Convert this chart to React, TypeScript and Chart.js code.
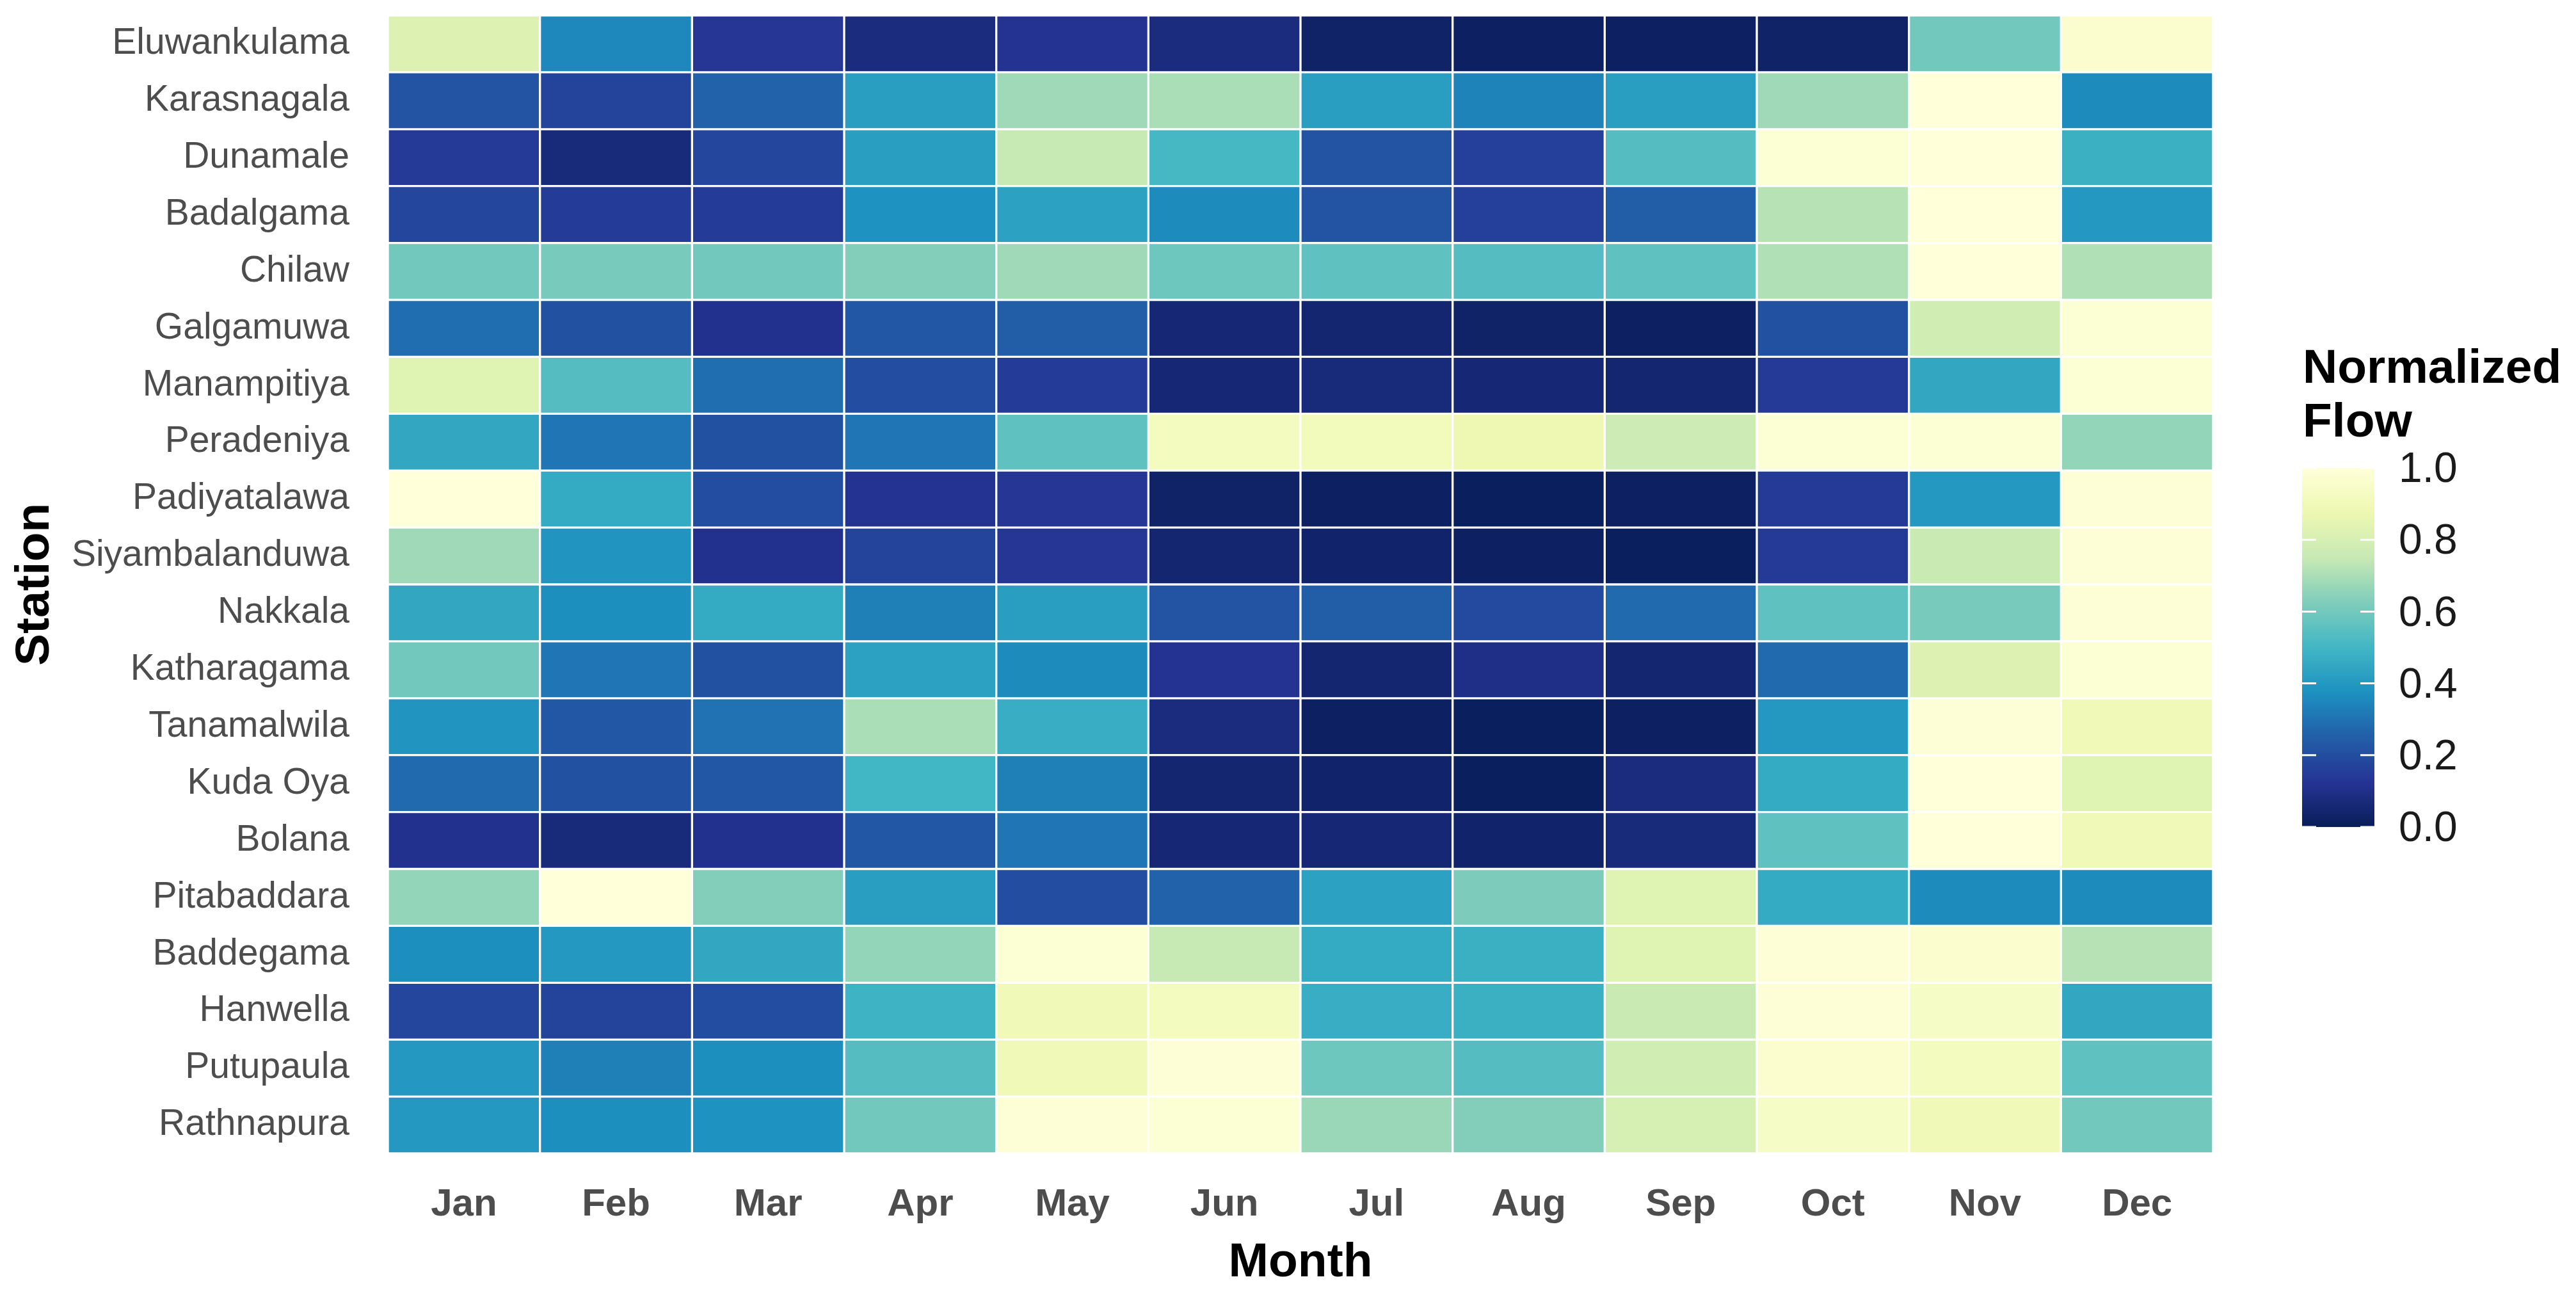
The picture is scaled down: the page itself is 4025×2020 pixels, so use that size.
import { useEffect, useRef } from 'react';
import { Chart, registerables } from 'chart.js';

Chart.register(...registerables);

const months = ['Jan', 'Feb', 'Mar', 'Apr', 'May', 'Jun', 'Jul', 'Aug', 'Sep', 'Oct', 'Nov', 'Dec'];

const stations = [
  'Eluwankulama', 'Karasnagala', 'Dunamale', 'Badalgama', 'Chilaw', 'Galgamuwa', 'Manampitiya',
  'Peradeniya', 'Padiyatalawa', 'Siyambalanduwa', 'Nakkala', 'Katharagama', 'Tanamalwila',
  'Kuda Oya', 'Bolana', 'Pitabaddara', 'Baddegama', 'Hanwella', 'Putupaula', 'Rathnapura',
];

const eluwankulama = [0.82, 0.35, 0.13, 0.08, 0.12, 0.08, 0.03, 0.02, 0.02, 0.03, 0.60, 0.97];
const karasnagala = [0.22, 0.17, 0.26, 0.42, 0.68, 0.70, 0.42, 0.34, 0.42, 0.68, 1.00, 0.36];
const dunamale = [0.14, 0.07, 0.18, 0.42, 0.75, 0.51, 0.22, 0.16, 0.54, 0.98, 1.00, 0.48];
const badalgama = [0.18, 0.15, 0.15, 0.38, 0.43, 0.36, 0.22, 0.16, 0.25, 0.72, 1.00, 0.40];
const chilaw = [0.60, 0.61, 0.60, 0.63, 0.68, 0.59, 0.56, 0.54, 0.56, 0.71, 1.00, 0.71];
const galgamuwa = [0.29, 0.21, 0.11, 0.23, 0.25, 0.06, 0.05, 0.03, 0.02, 0.21, 0.78, 0.98];
const manampitiya = [0.83, 0.54, 0.29, 0.20, 0.15, 0.06, 0.07, 0.06, 0.05, 0.14, 0.45, 0.98];
const peradeniya = [0.45, 0.31, 0.21, 0.31, 0.56, 0.92, 0.91, 0.88, 0.77, 0.98, 0.98, 0.66];
const padiyatalawa = [1.00, 0.46, 0.20, 0.12, 0.13, 0.03, 0.02, 0.01, 0.02, 0.14, 0.40, 0.99];
const siyambalanduwa = [0.68, 0.39, 0.11, 0.17, 0.13, 0.05, 0.04, 0.02, 0.01, 0.14, 0.76, 0.99];
const nakkala = [0.45, 0.37, 0.46, 0.33, 0.42, 0.22, 0.25, 0.19, 0.28, 0.56, 0.61, 0.99];
const katharagama = [0.60, 0.31, 0.21, 0.43, 0.36, 0.12, 0.05, 0.10, 0.05, 0.28, 0.82, 0.98];
const tanamalwila = [0.39, 0.23, 0.30, 0.70, 0.47, 0.08, 0.02, 0.01, 0.02, 0.40, 0.99, 0.90];
const kudaOya = [0.28, 0.21, 0.23, 0.50, 0.33, 0.05, 0.04, 0.01, 0.08, 0.46, 1.00, 0.83];
const bolana = [0.11, 0.07, 0.11, 0.23, 0.31, 0.06, 0.06, 0.04, 0.07, 0.56, 1.00, 0.90];
const pitabaddara = [0.66, 1.00, 0.63, 0.42, 0.20, 0.26, 0.43, 0.62, 0.83, 0.46, 0.36, 0.36];
const baddegama = [0.37, 0.40, 0.45, 0.66, 0.98, 0.75, 0.46, 0.48, 0.83, 0.99, 0.97, 0.72];
const hanwella = [0.18, 0.17, 0.20, 0.49, 0.90, 0.92, 0.47, 0.48, 0.76, 0.99, 0.94, 0.45];
const putupaula = [0.40, 0.33, 0.37, 0.54, 0.90, 0.99, 0.59, 0.54, 0.78, 0.97, 0.92, 0.56];
const rathnapura = [0.40, 0.37, 0.38, 0.60, 0.99, 0.98, 0.67, 0.63, 0.80, 0.94, 0.90, 0.60];

const flowRows = [
  eluwankulama, karasnagala, dunamale, badalgama, chilaw, galgamuwa, manampitiya,
  peradeniya, padiyatalawa, siyambalanduwa, nakkala, katharagama, tanamalwila,
  kudaOya, bolana, pitabaddara, baddegama, hanwella, putupaula, rathnapura,
];

const legendTicks = [0, 0.2, 0.4, 0.6, 0.8, 1.0];
const legendTitle = ['Normalized', 'Flow'];
const xTitle = 'Month';
const yTitle = 'Station';

// YlGnBu, from value 0 (dark) to value 1 (light)
const palette = ['#081d58', '#253494', '#225ea8', '#1d91c0', '#41b6c4', '#7fcdbb', '#c7e9b4', '#edf8b1', '#ffffd9'];

function hexToRgb(h: string) {
  return [parseInt(h.slice(1, 3), 16), parseInt(h.slice(3, 5), 16), parseInt(h.slice(5, 7), 16)];
}

function colorFor(v: number) {
  const t = Math.max(0, Math.min(1, v)) * (palette.length - 1);
  const i = Math.min(palette.length - 2, Math.floor(t));
  const f = t - i;
  const a = hexToRgb(palette[i]);
  const b = hexToRgb(palette[i + 1]);
  const c = a.map((x, k) => Math.round(x + (b[k] - x) * f));
  return `rgb(${c[0]},${c[1]},${c[2]})`;
}

const FONT = '"Liberation Sans", Arial, sans-serif';

const colorbarPlugin = {
  id: 'colorbar',
  afterDraw(chart: any) {
    const ctx = chart.ctx as CanvasRenderingContext2D;
    const x0 = 3597;
    const w = 113;
    const yTop = 731;
    const yBot = 1292;
    ctx.save();
    // title
    ctx.fillStyle = '#000000';
    ctx.font = `bold 75px ${FONT}`;
    ctx.textAlign = 'left';
    ctx.textBaseline = 'middle';
    legendTitle.forEach((line, i) => ctx.fillText(line, 3598, 577 + i * 84));
    // gradient bar
    const g = ctx.createLinearGradient(0, yBot, 0, yTop);
    palette.forEach((c, i) => g.addColorStop(i / (palette.length - 1), c));
    ctx.fillStyle = g;
    ctx.fillRect(x0, yTop, w, yBot - yTop);
    // ticks + labels
    ctx.font = `66px ${FONT}`;
    ctx.fillStyle = '#1a1a1a';
    ctx.strokeStyle = '#ffffff';
    ctx.lineWidth = 3;
    legendTicks.forEach((t) => {
      const y = yBot - t * (yBot - yTop);
      ctx.beginPath();
      ctx.moveTo(x0, y);
      ctx.lineTo(x0 + 22, y);
      ctx.moveTo(x0 + w - 22, y);
      ctx.lineTo(x0 + w, y);
      ctx.stroke();
      ctx.fillText(t.toFixed(1), 3748, y + 4);
    });
    ctx.restore();
  },
};

export default function App() {
  const ref = useRef<HTMLCanvasElement>(null);

  useEffect(() => {
    document.body.style.margin = '0';
    const datasets = months.map((m, j) => ({
      label: m,
      data: stations.map(() => [j, j + 1]),
      backgroundColor: flowRows.map((r) => colorFor(r[j])),
      borderColor: '#ffffff',
      borderWidth: 2,
      borderSkipped: false,
      grouped: false,
      barPercentage: 1,
      categoryPercentage: 1,
    }));

    const chart = new Chart(ref.current as HTMLCanvasElement, {
      type: 'bar',
      data: { labels: stations, datasets: datasets as any },
      plugins: [colorbarPlugin],
      options: {
        indexAxis: 'y',
        animation: false,
        responsive: true,
        maintainAspectRatio: false,
        devicePixelRatio: 1,
        layout: { padding: { left: 0, top: 24, right: 567, bottom: 0 } },
        plugins: { legend: { display: false }, tooltip: { enabled: false } },
        scales: {
          x: {
            type: 'linear',
            min: 0,
            max: 12,
            grid: { display: false, drawTicks: false },
            border: { display: false },
            afterBuildTicks: (scale: any) => {
              scale.ticks = months.map((_, i) => ({ value: i + 0.5 }));
            },
            afterFit: (scale: any) => {
              scale.height = 218;
              scale.paddingLeft = 0;
              scale.paddingRight = 0;
            },
            ticks: {
              autoSkip: false,
              maxRotation: 0,
              padding: 44,
              color: '#4d4d4d',
              font: { family: FONT, size: 60, weight: 'bold' },
              callback: (v: any) => months[Math.floor(Number(v))] ?? '',
            },
            title: {
              display: true,
              text: xTitle,
              color: '#000000',
              padding: { top: 0, bottom: 2 },
              font: { family: FONT, size: 75, weight: 'bold' },
            },
          },
          y: {
            type: 'category',
            grid: { display: false, drawTicks: false },
            border: { display: false },
            afterFit: (scale: any) => {
              scale.width = 606;
              scale.paddingTop = 0;
              scale.paddingBottom = 0;
            },
            ticks: {
              autoSkip: false,
              padding: 60,
              color: '#4d4d4d',
              font: { family: FONT, size: 57 },
            },
            title: {
              display: true,
              text: yTitle,
              color: '#000000',
              padding: { top: 10, bottom: 0 },
              font: { family: FONT, size: 75, weight: 'bold' },
            },
          },
        },
      } as any,
    });
    return () => chart.destroy();
  }, []);

  return (
    <div style={{ position: 'fixed', left: 0, top: 0, width: 4025, height: 2020, background: '#ffffff' }}>
      <canvas ref={ref} />
    </div>
  );
}
